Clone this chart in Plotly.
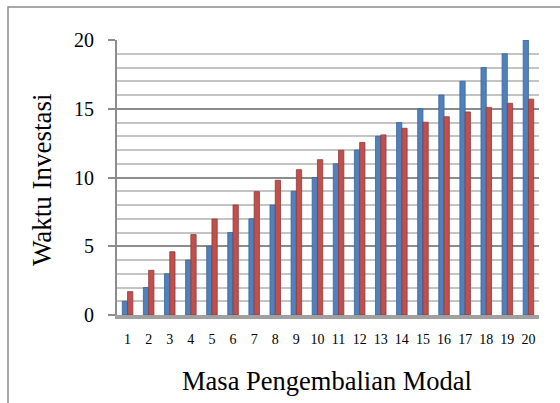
import plotly.graph_objects as go

categories = list(range(1, 21))
series_blue = [1, 2, 3, 4, 5, 6, 7, 8, 9, 10, 11, 12, 13, 14, 15, 16, 17, 18, 19, 20]
series_red = [1.70, 3.25, 4.60, 5.85, 6.98, 8.00, 8.97, 9.80, 10.57, 11.30,
              11.98, 12.55, 13.10, 13.58, 14.02, 14.42, 14.77, 15.10, 15.40, 15.70]
y_ticks = [0, 5, 10, 15, 20]

FONT = "Liberation Serif"

fig = go.Figure()
fig.add_trace(go.Bar(x=categories, y=series_blue, name="Series1",
                     marker=dict(color="#4F81BD", line=dict(color="#3A6597", width=0.8))))
fig.add_trace(go.Bar(x=categories, y=series_red, name="Series2",
                     marker=dict(color="#C0504D", line=dict(color="#8E3A38", width=0.8))))

L, R, T, B = 117, 21, 40, 88
W, H = 560, 403
pw, ph = W - L - R, H - T - B

fig.update_layout(
    width=W, height=H,
    margin=dict(l=L, r=R, t=T, b=B, pad=0),
    paper_bgcolor="white", plot_bgcolor="white",
    barmode="group", bargap=0.5, bargroupgap=0.0,
    showlegend=False,
    font=dict(family=FONT, color="black"),
    xaxis=dict(
        range=[0.5, 20.5], tickmode="array", tickvals=categories,
        ticktext=[str(c) for c in categories],
        tickfont=dict(family=FONT, size=14, color="black"),
        showgrid=False, zeroline=False,
        showline=True, linecolor="#A0A0A0", linewidth=4,
        ticks="", ticklabelstandoff=8,
    ),
    yaxis=dict(
        range=[0, 20], tickmode="array", tickvals=y_ticks,
        tickfont=dict(family=FONT, size=20, color="black"),
        showgrid=True, gridcolor="#8C8C8C", gridwidth=2,
        zeroline=False,
        showline=True, linecolor="#8C8C8C", linewidth=2,
        ticks="outside", ticklen=7, tickcolor="#8C8C8C", tickwidth=2,
        ticklabelstandoff=10,
        minor=dict(dtick=1, showgrid=True, gridcolor="#C4C4C4", gridwidth=1.6),
    ),
    shapes=[dict(type="rect", xref="paper", yref="paper",
                 x0=(8 - L) / pw, x1=2.0, y0=-2.0, y1=1 + (T - 7) / ph,
                 line=dict(color="#8C8C8C", width=1.5), layer="below")],
    annotations=[
        dict(text="Waktu Investasi", xref="paper", yref="paper",
             x=(42 - L) / pw, y=(H - B - 180) / ph, textangle=-90,
             showarrow=False, xanchor="center", yanchor="middle",
             font=dict(family=FONT, size=27, color="black")),
        dict(text="Masa Pengembalian Modal", xref="paper", yref="paper",
             x=(327 - L) / pw, y=-(381 - (H - B)) / ph,
             showarrow=False, xanchor="center", yanchor="middle",
             font=dict(family=FONT, size=26.5, color="black")),
    ],
)

fig.write_html("out.html",
               config={"displayModeBar": False},
               post_script="document.body.style.margin='0';document.body.style.overflow='hidden';")
